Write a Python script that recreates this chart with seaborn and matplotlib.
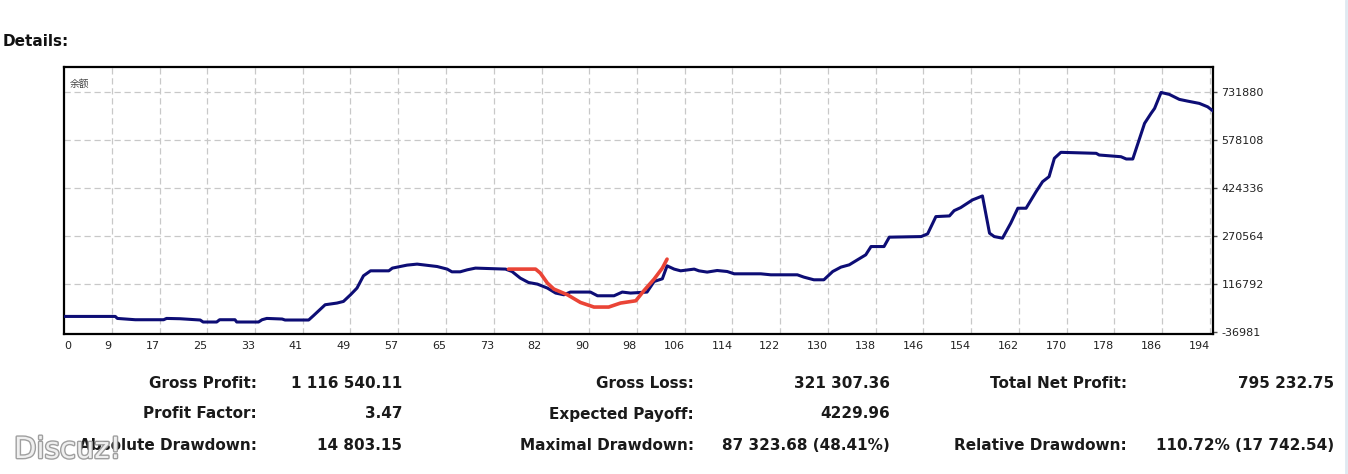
import matplotlib
matplotlib.use("Agg")
import matplotlib.pyplot as plt
import matplotlib.patheffects as pe
import seaborn as sns
import numpy as np
import pandas as pd

# ---------------- data ----------------
trade = [0, 8.7, 9.05, 12.1, 16.9, 17.4, 19.7, 23.1, 23.6, 25.9, 26.4, 29.0, 29.3, 33.0, 33.6, 34.4,
         37.0, 37.5, 41.5, 42.3, 44.3, 46.3, 47.4, 48.6, 49.7, 50.8, 52.0, 55.1, 55.7, 58.2, 59.9,
         63.3, 65.0, 65.8, 67.2, 68.4, 69.8, 74.9, 76.0, 77.4, 78.8, 80.3, 82.0, 83.4, 84.8, 85.9,
         89.3, 90.5, 93.3, 94.7, 96.1, 98.9, 100.1, 101.5, 102.3, 103.5, 104.6, 106.9, 107.7, 109.1,
         110.8, 112.5, 113.7, 118.2, 119.9, 124.4, 125.5, 127.2, 128.9, 130.4, 131.8, 133.2, 134.6,
         136.0, 136.9, 139.1, 140.0, 145.4, 146.5, 147.9, 150.2, 151.0, 152.1, 154.1, 155.8, 157.0,
         157.8, 159.2, 160.6, 161.8, 163.2, 164.9, 166.0, 167.1, 168.0, 169.1, 171.4, 175.1, 175.6,
         179.3, 180.2, 181.3, 183.3, 184.4, 185.0, 186.1, 187.5, 189.2, 190.6, 192.6, 194.0, 195.1]
balance = [13000, 13000, 6600, 2400, 2400, 6600, 5600, 1500, -4900, -4900, 2400, 2400, -4900, -4900,
           2400, 6600, 4700, 1500, 1500, 15200, 50500, 55900, 61100, 82500, 104000, 143400, 159400,
           159400, 168100, 177700, 180900, 173200, 164900, 156200, 156200, 162600, 168100, 164900,
           157200, 136000, 121900, 116800, 104000, 88000, 82500, 91200, 91200, 79300, 79300, 91200,
           88000, 91200, 125100, 133800, 175400, 164900, 159400, 164900, 159400, 155300, 160400,
           157200, 149800, 149800, 146600, 146600, 139200, 130600, 130600, 157200, 171300, 178600,
           194700, 210700, 237300, 237300, 267400, 269300, 278000, 333400, 335600, 352600, 362200,
           386900, 399700, 280200, 269300, 264200, 312300, 360300, 360300, 413500, 445500, 461600,
           520500, 539700, 538500, 536500, 531100, 525600, 518300, 518300, 632700, 664700, 680700,
           731880, 725600, 709600, 704100, 696700, 685800, 669800]

# hand-drawn red annotation
mark_trade = [75.4, 80.0, 80.8, 82.0, 83.1, 85.4, 87.6, 89.9, 92.4, 94.4, 97.0, 98.4, 100.1, 101.5, 102.3]
mark_value = [164900, 164900, 152100, 120000, 100800, 82500, 57900, 43100, 43100, 55900, 63300,
              96300, 132800, 168100, 196900]

x_tick_labels = ["0", "9", "17", "25", "33", "41", "49", "57", "65", "73", "82", "90", "98", "106",
                 "114", "122", "130", "138", "146", "154", "162", "170", "178", "186", "194"]
y_ticks = [-36981, 116792, 270564, 424336, 578108, 731880]

stats_rows = [
    ("Gross Profit:", "1 116 540.11", "Gross Loss:", "321 307.36", "Total Net Profit:", "795 232.75"),
    ("Profit Factor:", "3.47", "Expected Payoff:", "4229.96", "", ""),
    ("Absolute Drawdown:", "14 803.15", "Maximal Drawdown:", "87 323.68 (48.41%)",
     "Relative Drawdown:", "110.72% (17 742.54)"),
]

# ---------------- figure ----------------
sns.set_style("white")
plt.rcParams['font.family'] = ['DejaVu Sans', 'Noto Sans CJK SC']

W, H = 1348, 474
fig = plt.figure(figsize=(W / 100, H / 100), dpi=100)
fig.patch.set_facecolor("white")

ax = fig.add_axes([64 / W, 1 - 334 / H, (1213 - 64) / W, (334 - 67) / H])

df = pd.DataFrame({"trade": trade, "balance": balance})
dm = pd.DataFrame({"trade": mark_trade, "value": mark_value})

step = 8.1
xt = [i * step for i in range(len(x_tick_labels))]
px_per_unit = 47.75 / step
xmax = (1213 - 64) / px_per_unit
ax.set_xlim(0, xmax)
yres = (y_ticks[-1] - y_ticks[0]) / 240.0
ax.set_ylim(y_ticks[0] - 2 * yres, y_ticks[-1] + 25.5 * yres)

# grid
grid_kw = dict(color="#c8c8c8", lw=0.9, dashes=(5, 3), zorder=0)
for xv in xt[1:]:
    ax.axvline(xv, **grid_kw)
for yv in y_ticks[1:]:
    ax.axhline(yv, **grid_kw)

sns.lineplot(data=df, x="trade", y="balance", ax=ax, color="#0d0d75", lw=2.2,
             sort=False, estimator=None, zorder=3)
sns.lineplot(data=dm, x="trade", y="value", ax=ax, color="#ea4436", lw=2.6,
             sort=False, estimator=None, zorder=4)

ax.set_xlabel("")
ax.set_ylabel("")
for s in ax.spines.values():
    s.set_color("black")
    s.set_linewidth(1.6)

ax.set_xticks(xt)
ax.set_xticklabels(x_tick_labels)
ax.tick_params(axis="x", length=0, pad=5, labelsize=8, labelcolor="#222222")
for i, lab in enumerate(ax.get_xticklabels()):
    if i == 0:
        lab.set_horizontalalignment("left")
    else:
        lab.set_horizontalalignment("right")

ax.yaxis.tick_right()
ax.set_yticks(y_ticks)
ax.set_yticklabels([str(v) for v in y_ticks])
ax.tick_params(axis="y", length=3, width=1, pad=3, labelsize=8, labelcolor="#222222",
               color="#555555")

ax.text(0.005, 0.955, "余额", transform=ax.transAxes, fontsize=7, color="#444444",
        family=["Noto Sans CJK SC", "DejaVu Sans"], va="top", ha="left")

# title
fig.text(3 / W, 1 - 41 / H, "Details:", fontsize=11, fontweight="bold", color="#111111",
         ha="left", va="center")

# stats table
row_y = [383, 414, 445]
col_right = [257, 402, 694, 890, 1127, 1334]
for r, row in enumerate(stats_rows):
    for c, txt in enumerate(row):
        if txt:
            fig.text(col_right[c] / W, 1 - row_y[r] / H, txt, fontsize=11, fontweight="bold",
                     color="#1a1a1a", ha="right", va="center")

# watermark
fig.text(14 / W, 1 - 450 / H, "Discuz!", fontsize=21, color="#f4f4f4", ha="left", va="center",
         path_effects=[pe.withStroke(linewidth=2, foreground="#9a9a9a")], alpha=0.95)

# light page border on the right
fig.add_artist(plt.Line2D([1345.5 / W, 1345.5 / W], [0, 1], transform=fig.transFigure,
                          color="#dfe9f1", lw=2))

fig.savefig("out.png", dpi=100, facecolor="white")
